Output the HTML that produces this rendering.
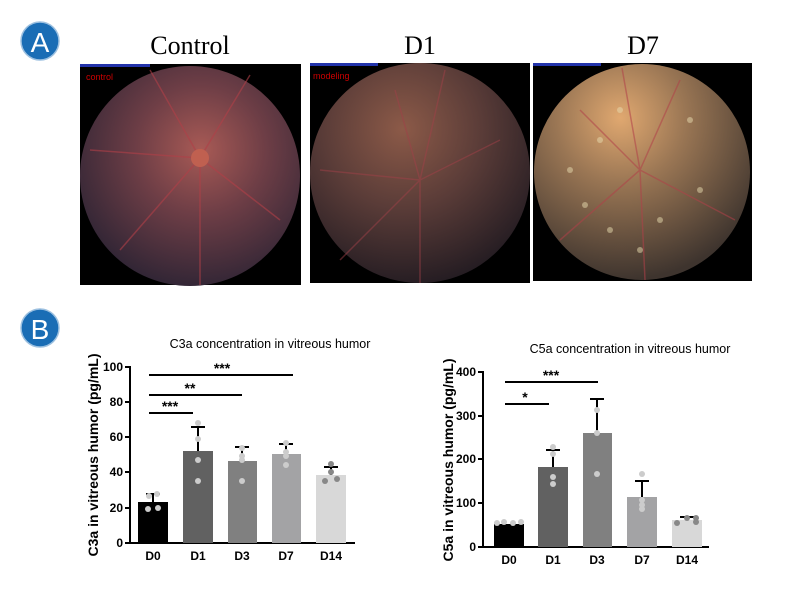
<!DOCTYPE html><html><head><style>body{margin:0;background:#fff}svg{display:block}</style></head><body>
<svg width="785" height="597" viewBox="0 0 785 597" xmlns="http://www.w3.org/2000/svg" font-family="Liberation Sans, sans-serif">
<defs>
<radialGradient id="g1" cx="0.55" cy="0.38" r="0.65"><stop offset="0" stop-color="#a85a55"/><stop offset="0.45" stop-color="#6e3e46"/><stop offset="1" stop-color="#2e2434"/></radialGradient>
<radialGradient id="g2" cx="0.42" cy="0.3" r="0.72"><stop offset="0" stop-color="#8c5a48"/><stop offset="0.5" stop-color="#5a3c38"/><stop offset="1" stop-color="#241c22"/></radialGradient>
<radialGradient id="g3" cx="0.4" cy="0.25" r="0.75"><stop offset="0" stop-color="#e0a870"/><stop offset="0.4" stop-color="#9a7654"/><stop offset="1" stop-color="#3e342e"/></radialGradient>
</defs>
<circle cx="40" cy="41" r="19" fill="#1a6db5" stroke="#9cc0e0" stroke-width="1.5"/>
<text x="40" y="52" font-size="28" fill="#fff" text-anchor="middle">A</text>
<circle cx="40" cy="328" r="19" fill="#1a6db5" stroke="#9cc0e0" stroke-width="1.5"/>
<text x="40" y="339" font-size="28" fill="#fff" text-anchor="middle">B</text>
<g font-family="Liberation Serif, serif" font-size="26" text-anchor="middle" fill="#000">
<text x="190" y="54">Control</text><text x="420" y="54">D1</text><text x="643" y="54">D7</text></g>
<rect x="80" y="64" width="221" height="221" fill="#000"/>
<circle cx="190" cy="176" r="110" fill="url(#g1)"/>
<g stroke="#b04048" stroke-width="1.5" opacity="0.6" fill="none"><path d="M200 158L150 70M200 158L250 75M200 158L280 220M200 158L120 250M200 158L200 285M200 158L90 150"/></g>
<circle cx="200" cy="158" r="9" fill="#c06050"/>
<text x="86" y="80" font-size="9" fill="#c00">control</text>
<rect x="310" y="63" width="220" height="220" fill="#000"/>
<circle cx="420" cy="173" r="110" fill="url(#g2)"/>
<g stroke="#a04048" stroke-width="1.5" opacity="0.5" fill="none"><path d="M420 180L445 70M420 180L395 90M420 180L500 140M420 180L420 283M420 180L340 260M420 180L320 170"/></g>
<text x="313" y="79" font-size="9" fill="#c00">modeling</text>
<rect x="533" y="63" width="219" height="218" fill="#000"/>
<circle cx="642" cy="172" r="108" fill="url(#g3)"/>
<g stroke="#b04048" stroke-width="1.5" opacity="0.55" fill="none"><path d="M640 170L622 68M640 170L680 80M640 170L580 110M640 170L560 240M640 170L645 280M640 170L735 220"/></g>
<g fill="#e8dcb0" opacity="0.5"><circle cx="600" cy="140" r="3"/><circle cx="620" cy="110" r="3"/><circle cx="570" cy="170" r="3"/><circle cx="660" cy="220" r="3"/><circle cx="700" cy="190" r="3"/><circle cx="610" cy="230" r="3"/><circle cx="690" cy="120" r="3"/><circle cx="640" cy="250" r="3"/><circle cx="585" cy="205" r="3"/></g>
<g fill="#2233aa"><rect x="80" y="64" width="70" height="3"/><rect x="310" y="63" width="68" height="3"/><rect x="533" y="63" width="68" height="3"/></g>

<!-- chart1 -->
<text x="270" y="348" font-size="12.5" text-anchor="middle">C3a concentration in vitreous humor</text>
<text transform="translate(98,455) rotate(-90)" font-size="14" font-weight="bold" text-anchor="middle">C3a in vitreous humor  (pg/mL)</text>
<g stroke="#000" stroke-width="2" fill="none"><path d="M130 366V543H355"/>
<path d="M125 367h5M125 402h5M125 437h5M125 472h5M125 508h5M125 543h5"/></g>
<g font-size="12" font-weight="bold" text-anchor="end"><text x="123" y="371">100</text><text x="123" y="406">80</text><text x="123" y="441">60</text><text x="123" y="476">40</text><text x="123" y="512">20</text><text x="123" y="547">0</text></g>
<rect x="138" y="502" width="30" height="41" fill="#000"/>
<rect x="183" y="451" width="30" height="92" fill="#616161"/>
<rect x="228" y="461" width="29" height="82" fill="#808080"/>
<rect x="272" y="454" width="29" height="89" fill="#a3a3a5"/>
<rect x="316" y="475" width="30" height="68" fill="#d8d8d8"/>
<g stroke="#000" stroke-width="2"><path d="M153 502V494M146 494h14M198 451V427M191 427h14M242 461V447M235 447h14M286 454V444M279 444h14M331 475V467M324 467h14"/>
<path d="M149 375H293M149 395H242M149 413H193"/></g>
<g font-size="14" font-weight="bold" text-anchor="middle"><text x="222" y="373">***</text><text x="190" y="393">**</text><text x="170" y="411">***</text></g>
<g font-size="12" font-weight="bold" text-anchor="middle">
<text x="153" y="560">D0</text><text x="198" y="560">D1</text><text x="242" y="560">D3</text><text x="286" y="560">D7</text><text x="331" y="560">D14</text></g>
<g fill="#ccc"><circle cx="148" cy="509" r="3"/><circle cx="158" cy="508" r="3"/><circle cx="157" cy="494" r="3"/><circle cx="149" cy="496" r="3"/>
<circle cx="198" cy="423" r="3"/><circle cx="198" cy="439" r="3"/><circle cx="198" cy="460" r="3"/><circle cx="198" cy="481" r="3"/>
<circle cx="242" cy="448" r="3"/><circle cx="242" cy="456" r="3"/><circle cx="242" cy="460" r="3"/><circle cx="242" cy="481" r="3"/>
<circle cx="286" cy="443" r="3"/><circle cx="286" cy="452" r="3"/><circle cx="286" cy="456" r="3"/><circle cx="286" cy="465" r="3"/></g>
<g fill="#888"><circle cx="331" cy="464" r="3"/><circle cx="325" cy="481" r="3"/><circle cx="337" cy="479" r="3"/><circle cx="331" cy="472" r="3"/></g>

<!-- chart2 -->
<text x="630" y="353" font-size="12.5" text-anchor="middle">C5a concentration in vitreous humor</text>
<text transform="translate(453,460) rotate(-90)" font-size="14" font-weight="bold" text-anchor="middle">C5a in vitreous humor  (pg/mL)</text>
<g stroke="#000" stroke-width="2" fill="none"><path d="M483 371V547H709"/>
<path d="M478 372h5M478 416h5M478 459h5M478 503h5M478 547h5"/></g>
<g font-size="12" font-weight="bold" text-anchor="end"><text x="476" y="376">400</text><text x="476" y="420">300</text><text x="476" y="463">200</text><text x="476" y="507">100</text><text x="476" y="551">0</text></g>
<rect x="494" y="524" width="30" height="23" fill="#000"/>
<rect x="538" y="467" width="30" height="80" fill="#616161"/>
<rect x="583" y="433" width="29" height="114" fill="#808080"/>
<rect x="627" y="497" width="30" height="50" fill="#a3a3a5"/>
<rect x="672" y="520" width="30" height="27" fill="#d8d8d8"/>
<g stroke="#000" stroke-width="2"><path d="M553 467V450M546 450h14M597 433V399M590 399h14M642 497V481M635 481h14M687 520V517M680 517h14"/>
<path d="M505 382H598M505 404H549"/></g>
<g font-size="14" font-weight="bold" text-anchor="middle"><text x="551" y="380">***</text><text x="525" y="402">*</text></g>
<g font-size="12" font-weight="bold" text-anchor="middle">
<text x="509" y="564">D0</text><text x="553" y="564">D1</text><text x="597" y="564">D3</text><text x="642" y="564">D7</text><text x="687" y="564">D14</text></g>
<g fill="#ccc"><circle cx="497" cy="523" r="3"/><circle cx="504" cy="522" r="3"/><circle cx="513" cy="523" r="3"/><circle cx="521" cy="522" r="3"/>
<circle cx="553" cy="447" r="3"/><circle cx="553" cy="454" r="3"/><circle cx="553" cy="477" r="3"/><circle cx="553" cy="484" r="3"/>
<circle cx="597" cy="410" r="3"/><circle cx="597" cy="433" r="3"/><circle cx="597" cy="474" r="3"/>
<circle cx="642" cy="474" r="3"/><circle cx="642" cy="500" r="3"/><circle cx="642" cy="505" r="3"/><circle cx="642" cy="509" r="3"/></g>
<g fill="#888"><circle cx="677" cy="523" r="3"/><circle cx="687" cy="518" r="3"/><circle cx="696" cy="518" r="3"/><circle cx="696" cy="522" r="3"/></g>
</svg>
</body></html>
